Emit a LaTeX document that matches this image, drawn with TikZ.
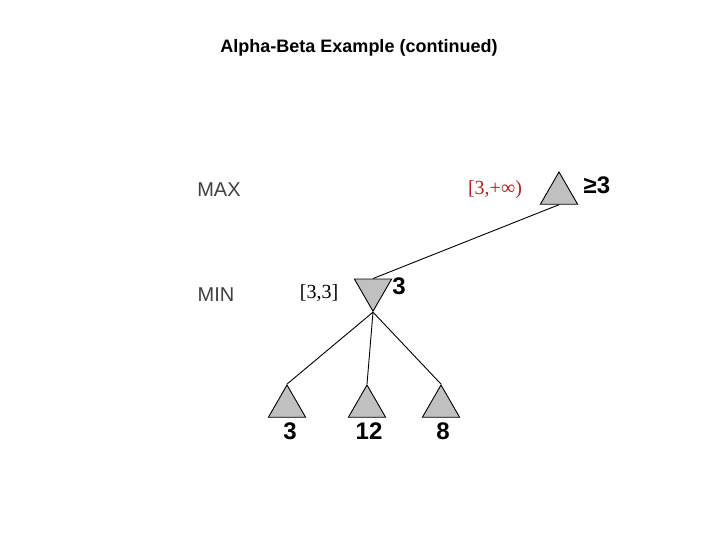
\documentclass[tikz,border=0pt]{standalone}
\usepackage{fontspec}
\setmainfont{Liberation Serif}
\setsansfont{Liberation Sans}
\usetikzlibrary{shapes.geometric}
\definecolor{nodegray}{RGB}{192,192,192}
\definecolor{boundred}{RGB}{178,34,34}

\begin{document}
\begin{tikzpicture}[x=1pt,y=-1pt,line width=0.9pt,
  maxnode/.style={regular polygon,regular polygon sides=3,draw=black,fill=nodegray,minimum size=43pt,inner sep=0pt},
  minnode/.style={maxnode,shape border rotate=180},
  value/.style={font=\sffamily\bfseries\fontsize{24}{26}\selectfont},
  level/.style={font=\sffamily\fontsize{20}{22}\selectfont,text=black!75},
  bound/.style={font=\fontsize{20}{22}\selectfont}]
\useasboundingbox (0,0) rectangle (720,540);
% title
\node[font=\sffamily\bfseries\fontsize{18}{21}\selectfont] (title) at (359,48) {Alpha-Beta Example (continued)};

% levels
\node[level] (lmax) at (219,190) {MAX};
\node[level] (lmin) at (216,295) {MIN};

% tree
\node[maxnode] (root) at (559,193.5) {};
\node[minnode] (mid) at (373,289.75) {};
\node[maxnode] (leafa) at (287,406.5) {};
\node[maxnode] (leafb) at (367,406.5) {};
\node[maxnode] (leafc) at (441,406.5) {};
\draw (root.south) -- (mid.north);
\draw (mid.corner 1) -- (leafa.corner 1);
\draw (mid.corner 1) -- (leafb.corner 1);
\draw (mid.corner 1) -- (leafc.corner 1);

% values
\node[value] (vroot) at (597,185) {≥3};
\node[value] (vmid) at (399,286) {3};
\node[value] (va) at (290,431) {3};
\node[value] (vb) at (369,431) {12};
\node[value] (vc) at (443,431) {8};

% alpha-beta bounds
\node[bound,text=boundred] (broot) at (495,190) {[3,+∞)};
\node[bound] (bmid) at (319,293) {[3,3]};
\end{tikzpicture}
\end{document}
